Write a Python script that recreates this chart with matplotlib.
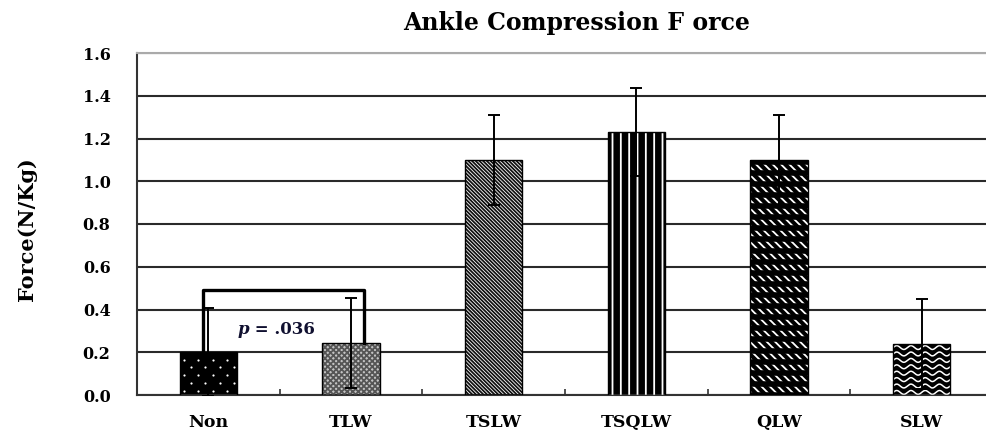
import numpy as np
import matplotlib
matplotlib.use("Agg")
import matplotlib.pyplot as plt

categories = ["Non", "TLW", "TSLW", "TSQLW", "QLW", "SLW"]
means = [0.20, 0.245, 1.10, 1.23, 1.10, 0.24]
errors = [0.205, 0.21, 0.21, 0.205, 0.21, 0.21]
y_ticks = [0.0, 0.2, 0.4, 0.6, 0.8, 1.0, 1.2, 1.4, 1.6]
p_value = ".036"

plt.rcParams["font.family"] = ["DejaVu Serif"]
plt.rcParams["hatch.linewidth"] = 1.3

fig = plt.figure(figsize=(9.86, 4.33), dpi=100)
ax = fig.add_axes([137 / 986, 38 / 433, 856 / 986, 342 / 433])

x = np.arange(len(categories))
width = 0.4

fills = ["black", "#c4c4c4", "white", "black", "black", "black"]
hatches = [(None, None), ("#555555", "xxxxxx"), ("#111111", "\\" * 9),
           ("white", "||"), ("white", "\\\\\\\\"), (None, None)]

ax.set_axisbelow(True)


def clipped_lines(bar, segs, color, lw):
    for xs, ys in segs:
        ln, = ax.plot(xs, ys, color=color, lw=lw, zorder=3,
                      solid_capstyle="butt")
        ln.set_clip_path(bar)


for i in range(len(categories)):
    base = ax.bar(x[i], means[i], width, color=fills[i], edgecolor="none",
                  zorder=2)[0]
    hc, hp = hatches[i]
    if hp:
        ax.bar(x[i], means[i], width, facecolor="none", edgecolor=hc,
               hatch=hp, linewidth=0, zorder=3)
    left = x[i] - width / 2
    if categories[i] == "Non":
        # sparse staggered white dots
        rows = np.arange(0.018, means[i], 0.037)
        px_, py_ = [], []
        for k, r in enumerate(rows):
            cols = np.arange(left + 0.03 + 0.05 * (k % 2), left + width, 0.1)
            px_.extend(cols)
            py_.extend([r] * len(cols))
        dots = ax.scatter(px_, py_, s=2.5, color="white", linewidths=0,
                          zorder=3)
        dots.set_clip_path(base)
    if categories[i] == "QLW":
        # dark bands break the white diagonals into short dashes
        rows = np.arange(0.0, means[i] + 0.05, 0.052)
        segs = [([left, left + width], [r, r]) for r in rows]
        clipped_lines(base, segs, "black", 4.0)
    if categories[i] == "SLW":
        xs = np.linspace(left, left + width, 300)
        rows = np.arange(0.012, means[i] + 0.02, 0.03)
        segs = [(xs, r + 0.009 * np.sin((xs - left) / width * 2 * np.pi * 4))
                for r in rows]
        clipped_lines(base, segs, "white", 1.1)
    ax.bar(x[i], means[i], width, facecolor="none", edgecolor="black",
           linewidth=1.0, zorder=4)

ax.errorbar(x, means, yerr=errors, fmt="none", ecolor="black",
            elinewidth=1.4, capsize=4, capthick=1.4, zorder=5)

# significance bracket between the first two bars
top = 0.49
x0 = x[0] - 0.04
x1 = x[1] + 0.09
ax.plot([x0, x0, x1, x1], [means[0], top, top, means[1]], color="black",
        lw=2.4, solid_joinstyle="round", zorder=6)
px = (x[0] + x[1]) / 2 - 0.215
ax.text(px, 0.305, "p", ha="right", va="center", fontsize=12,
        fontweight="bold", fontstyle="italic", color="#101030", zorder=7)
ax.text(px, 0.305, " = " + p_value, ha="left", va="center", fontsize=12,
        fontweight="bold", color="#101030", zorder=7)

ax.set_xlim(-0.5, len(categories) - 0.5)
ax.set_ylim(0, 1.6)
ax.set_yticks(y_ticks)
ax.set_yticklabels([f"{v:.1f}" for v in y_ticks], fontsize=11.5,
                   fontweight="bold")
ax.yaxis.grid(True, color="#2a2a2a", lw=1.5)
ax.tick_params(axis="y", length=0, pad=19)

ax.set_xticks(x)
ax.set_xticklabels(categories, fontsize=12.5, fontweight="bold")
ax.tick_params(axis="x", length=0, pad=14)
ax.set_xticks(np.arange(0.5, len(categories) - 0.5, 1.0), minor=True)
ax.tick_params(axis="x", which="minor", direction="in", length=4,
               width=1.2, color="#333333")

for s in ["left", "bottom"]:
    ax.spines[s].set_color("#333333")
    ax.spines[s].set_linewidth(1.5)
ax.spines["top"].set_color("#aaaaaa")
ax.spines["top"].set_linewidth(1.5)
ax.spines["right"].set_visible(False)

ax.set_ylabel("Force(N/Kg)", fontsize=15, fontweight="bold")
ax.yaxis.set_label_coords(-100 / 856, 0.5 - 5 / 342)

fig.text(577 / 986, 1 - 23 / 433, "Ankle Compression F orce", ha="center",
         va="center", fontsize=17, fontweight="bold")

fig.savefig("out.png", dpi=100)
